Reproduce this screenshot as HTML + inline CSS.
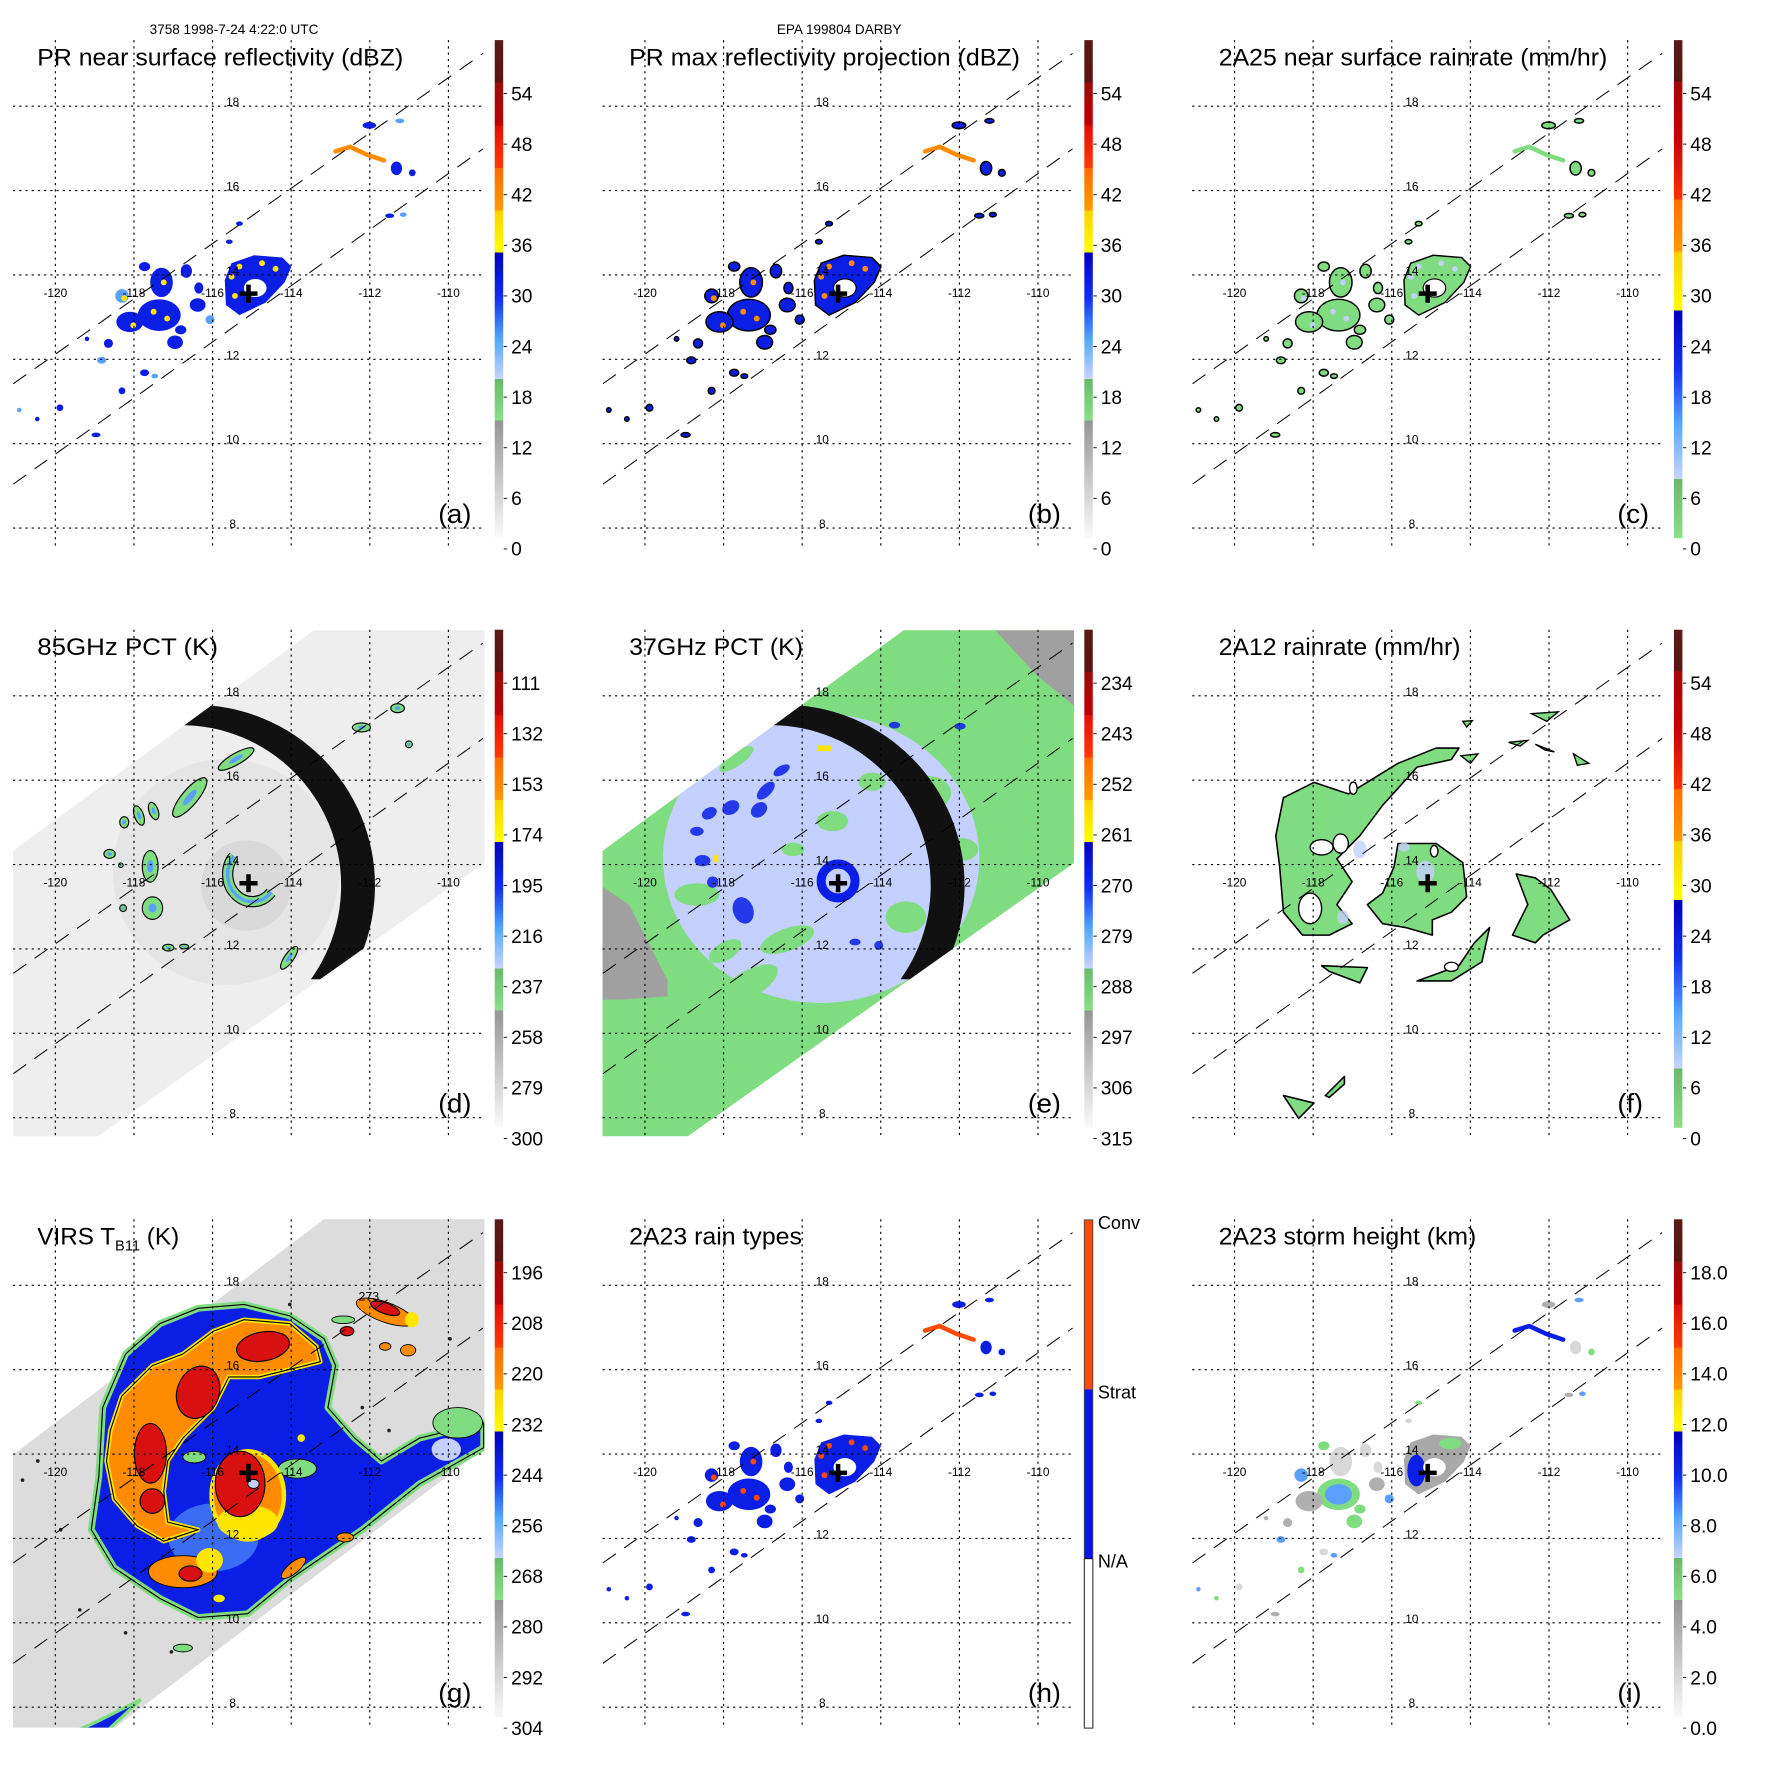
<!DOCTYPE html>
<html><head><meta charset="utf-8">
<style>
html,body{margin:0;padding:0;background:#fff;}
svg{display:block;}
text{font-family:"Liberation Sans",sans-serif;}
</style></head>
<body>
<svg id="fig" width="1771" height="1771" viewBox="0 0 1546 1546" xmlns="http://www.w3.org/2000/svg">
<defs>
<linearGradient id="cbStd" x1="0" y1="0" x2="0" y2="1">
<stop offset="0" stop-color="#5a1a16"/><stop offset="0.085" stop-color="#5c1410"/>
<stop offset="0.085" stop-color="#9a0c08"/><stop offset="0.171" stop-color="#c00000"/>
<stop offset="0.171" stop-color="#e01000"/><stop offset="0.257" stop-color="#ff3a00"/>
<stop offset="0.257" stop-color="#ff6a00"/><stop offset="0.342" stop-color="#ff9a00"/>
<stop offset="0.342" stop-color="#ffd000"/><stop offset="0.426" stop-color="#ffff00"/>
<stop offset="0.426" stop-color="#0000c0"/><stop offset="0.52" stop-color="#1030f0"/><stop offset="0.6" stop-color="#50a8ff"/><stop offset="0.68" stop-color="#c8d4ff"/>
<stop offset="0.68" stop-color="#66bb6a"/><stop offset="0.764" stop-color="#88e088"/>
<stop offset="0.764" stop-color="#959595"/><stop offset="1" stop-color="#fafafa"/>
</linearGradient>
<linearGradient id="cbRain" x1="0" y1="0" x2="0" y2="1">
<stop offset="0" stop-color="#5a1a16"/><stop offset="0.083" stop-color="#5c1410"/>
<stop offset="0.083" stop-color="#a00808"/><stop offset="0.2" stop-color="#cc0000"/><stop offset="0.32" stop-color="#ff3000"/>
<stop offset="0.32" stop-color="#ff7000"/><stop offset="0.424" stop-color="#ff9a00"/>
<stop offset="0.424" stop-color="#ffd000"/><stop offset="0.543" stop-color="#ffff00"/>
<stop offset="0.543" stop-color="#0000c0"/><stop offset="0.66" stop-color="#1030f0"/><stop offset="0.77" stop-color="#50a8ff"/><stop offset="0.881" stop-color="#c8d4ff"/>
<stop offset="0.881" stop-color="#66bb6a"/><stop offset="1" stop-color="#88e088"/>
</linearGradient>
<clipPath id="plotClip"><rect x="11.5" y="35.5" width="417.5" height="450"/></clipPath>
<clipPath id="swathClip"><polygon points="10.5,232 278,36 429,36 429,242 87,484 10.5,484"/></clipPath>
<clipPath id="halfClip"><rect x="150" y="0" width="300" height="345"/></clipPath>
</defs>
<g id="root" transform="scale(0.986)">
<text x="132.5" y="30" font-size="12">3758 1998-7-24 4:22:0 UTC</text>
<text x="743" y="30" font-size="12" text-anchor="middle">EPA 199804 DARBY</text>
</g>
</svg>
<script>
// ---------- data ----------
const panelIds = ['a','b','c','d','e','f','g','h','i'];
const panelTitles = ['PR near surface reflectivity (dBZ)','PR max reflectivity projection (dBZ)','2A25 near surface rainrate (mm/hr)','85GHz PCT (K)','37GHz PCT (K)','2A12 rainrate (mm/hr)','VIRS T','2A23 rain types','2A23 storm height (km)'];
const titleWidths = [324,346,344,160,154,214,0,153,228];
const lonTicks = [-120,-118,-116,-114,-112,-110];
const latTicks = [18,16,14,12,10,8];
const cbDBZ = ['0','6','12','18','24','30','36','42','48','54'];
const cbPCT85 = ['300','279','258','237','216','195','174','153','132','111'];
const cbPCT37 = ['315','306','297','288','279','270','261','252','243','234'];
const cbRain = ['0','6','12','18','24','30','36','42','48','54'];
const cbVIRS = ['304','292','280','268','256','244','232','220','208','196'];
const cbHeight = ['0.0','2.0','4.0','6.0','8.0','10.0','12.0','14.0','16.0','18.0'];
const rainTypes = ['Conv','Strat','N/A'];

// PR swath features: [x, y, rx, ry]
const prBlobs = [[141,279,19,14],[115,285,12,9],[108,262,6,6],[143,250,10,13],[155,303,7,6],[175,270,7,6],[186,283,4,4],[165,240,5,6],[128,236,5,4],[96,304,4,4],[90,319,4,3],[128,330,4,3],[108,346,3,3],[77,300,2,2],[137,333,3,2],[203,214,3,2],[212,198,3,2],[327,111,6,3],[354,107,4,2],[351,149,5,6],[365,153,3,3],[345,191,4,2],[357,190,3,2],[53,361,3,3],[33,371,2,2],[85,385,4,2],[17,363,2,2],[176,255,4,5],[160,292,5,4]];
const prStreak = [[297,134],[310,130],[325,137],[340,142]];
const eyeShape = [[199,248],[205,233],[225,226],[250,228],[258,236],[252,250],[235,268],[212,279],[200,270]];
const hotSpots = [[205,245],[212,236],[232,233],[244,238],[208,262],[148,282],[136,276],[118,288],[145,250],[110,264]];

// 85GHz features [x,y,rx,ry,rot]
const d85 = [[168,184,22,7,-50],[209,150,18,5,-30],[133,245,7,14,0],[135,282,9,10,0],[123,200,4,9,-20],[136,196,4,8,-20],[110,206,4,5,0],[97,234,5,4,0],[107,244,2,2,0],[256,326,12,4,-55],[320,122,8,4,0],[352,105,6,4,0],[362,137,3,3,0],[149,317,5,3,0],[163,316,4,2,0],[109,282,3,3,0]];
// 37GHz blue features [x,y,rx,ry,rot]
const e37 = [[156,178,10,5,-45],[125,193,8,6,-30],[106,198,7,5,-30],[150,195,8,6,-40],[95,214,6,4,0],[136,284,9,12,-20],[100,240,7,5,0],[109,259,5,5,0],[170,160,8,4,-30],[270,120,5,3,0],[328,121,5,3,0],[235,312,5,3,0],[256,315,4,4,0]];
const e37green = [[60,160,30,12,-30],[95,270,20,10,0],[175,310,25,10,-20],[300,180,20,15,0],[280,290,18,14,0],[140,350,30,12,-30],[215,205,14,9,0],[130,150,18,6,-35],[250,170,12,8,0],[180,230,10,6,0],[120,320,16,8,-30],[330,230,14,10,0]];

// 2A12 rain polygons
const fArc = [[300,520],[380,480],[470,510],[600,430],[700,390],[760,390],[740,420],[650,440],[560,540],[500,620],[440,680],[480,740],[440,800],[480,850],[420,880],[350,880],[300,820],[290,700],[280,620]];
const fEye = [[600,640],[700,640],[770,690],[780,780],[740,820],[690,840],[690,880],[620,860],[560,850],[520,800],[560,770],[590,700]];
const fRight = [[910,720],[960,730],[1000,760],[1050,840],[980,880],[960,900],[900,880],[940,800]];
const fLowArc = [[650,1000],[760,960],[800,900],[840,860],[820,950],[740,1000]];
const fLowLeft = [[400,960],[520,965],[500,1005],[420,975]];
const fBottom1 = [[300,1300],[380,1320],[340,1360]];
const fBottom2 = [[410,1300],[460,1250],[460,1270],[420,1305]];
const fSmall = [[950,300],[1020,295],[990,320],[890,375],[940,370],[920,385],[960,380],[1010,400],[985,395],[1060,405],[1100,430],[1070,435],[770,320],[795,318],[780,335],[765,410],[810,405],[790,430]];
const fHoles = [[400,650,30,20],[450,640,20,25],[370,810,30,40],[483,495,10,16],[695,660,10,15],[740,963,18,12]];

// VIRS polygons (zoom-reference coordinates)
const gEnv = [[270,560],[330,420],[420,340],[520,300],[640,290],[760,320],[850,380],[880,450],[860,560],[930,640],[1000,700],[1100,640],[1268,600],[1268,665],[1100,760],[950,880],[760,1010],[650,1100],[520,1110],[420,1060],[300,980],[240,880],[260,740]];
const gOrange = [[290,620],[320,530],[400,450],[480,420],[560,360],[640,330],[760,340],[830,400],[840,440],[760,460],[680,480],[600,480],[560,560],[480,640],[440,700],[430,780],[440,860],[520,880],[430,910],[360,870],[300,800],[280,700]];
const gReds = [[395,680,42,78,0],[520,520,55,70,20],[690,400,70,38,-10],[400,805,32,32,0],[500,995,30,20,0],[910,360,18,12,0],[1010,300,40,14,20]];
const gOranges = [[480,990,90,42,0],[1010,310,80,26,20],[1010,400,15,10,0],[1070,410,20,15,0],[770,980,40,14,-40],[905,900,22,12,0]];
const gYellows = [[550,960,35,32,0],[650,860,80,45,0],[1080,330,18,20,0],[790,640,10,10,0],[575,1060,15,10,0]];
const gGreens = [[1200,600,65,40,0],[780,720,50,25,0],[510,690,30,15,0],[900,330,30,10,0],[480,1190,25,10,0]];
const gBlueStrip = [[90,1455],[250,1385],[370,1325],[230,1455]];
const gDots = [[100,700],[300,520],[500,460],[60,750],[160,880],[210,1090],[330,1150],[450,1200],[950,560],[1020,620],[1180,380],[760,290]];

// ---------- helpers ----------
const NS='http://www.w3.org/2000/svg';
const fig=document.getElementById('root');
function mk(tag,parent,attrs){const e=document.createElementNS(NS,tag);for(const k in attrs)e.setAttribute(k,attrs[k]);parent.appendChild(e);return e;}
function pts(arr,fx,fy){return arr.map(p=>fx(p[0]).toFixed(1)+','+fy(p[1]).toFixed(1)).join(' ');}
const idx=v=>v;
const fX=z=>49+(z-172)*0.338, fY=z=>94+(z-253)*0.338;
const gX=z=>49+(z-146)*0.338, gY=z=>94+(z-240)*0.338;
const lonX=lon=>49+(lon+120)*34.8;
const latY=lat=>94+(18-lat)*37.35;

const GREEN='#80dc80',LB='#c4d0ff',MB='#5aa0ff',BL='#0a1ee6',YE='#ffe600',OR='#ff8c00',RD='#d81010',PRED='#ff4a00';

panelIds.forEach((id,k)=>{
  const col=k%3,row=Math.floor(k/3);
  const P=mk('g',fig,{transform:`translate(${col*522},${row*522})`});
  
  
  const D=mk('g',P,{'clip-path':'url(#plotClip)'});
  
  

  if(['a','b','c','h','i'].includes(id)){
    const fill={a:BL,b:BL,c:GREEN,h:BL,i:'#bdbdbd'}[id];
    const stroke=(id==='b'||id==='c')?'#000':'none';
    prBlobs.forEach((b,j)=>{
      let f=fill;
      if(id==='a'&&j%4===2)f=MB;
      if(id==='i')f=[GREEN,'#b0b0b0',MB,'#d8d8d8'][j%4];
      const e=mk('ellipse',D,{cx:b[0],cy:b[1],rx:b[2],ry:b[3],fill:f,stroke:stroke,'stroke-width':1.3});
      
      
    });
    const eye=mk('polygon',D,{points:pts(eyeShape,idx,idx),fill:(id==='c'?GREEN:(id==='i'?'#a8a8a8':BL)),stroke:stroke,'stroke-width':1.3});
    
    
    if(id==='i'){mk('ellipse',D,{cx:210,cy:258,rx:8,ry:14,fill:BL});mk('ellipse',D,{cx:141,cy:279,rx:12,ry:9,fill:MB});mk('ellipse',D,{cx:240,cy:234,rx:10,ry:5,fill:GREEN});}
    const hole=mk('ellipse',D,{cx:226,cy:255,rx:10,ry:8,fill:'#fff',stroke:stroke,'stroke-width':1});
    
    
    const st=mk('polyline',D,{points:pts(prStreak,idx,idx),fill:'none',stroke:(id==='c'?GREEN:(id==='h'?PRED:(id==='i'?BL:OR))),'stroke-width':4,'stroke-linecap':'round'});
    
    
    if(id!=='c'&&id!=='i'){
      hotSpots.forEach(h=>{
        const c=mk('circle',D,{cx:h[0],cy:h[1],r:2.6,fill:(id==='h'?PRED:(id==='b'?OR:YE))});
        
        
      });
    }
    if(id==='c'){hotSpots.forEach(h=>{const c=mk('circle',D,{cx:h[0],cy:h[1],r:2.5,fill:LB});});}
  }
  if(id==='d'||id==='e'){
    const sw=mk('polygon',D,{points:'10.5,232 278,36 429,36 429,242 87,484 10.5,484',fill:(id==='d'?'#eeeeee':GREEN)});
    
    
    const S=mk('g',D,{'clip-path':'url(#swathClip)'});
    if(id==='d'){
      const hz=mk('circle',S,{cx:200,cy:250,r:100,fill:'#e2e2e2',opacity:0.8});
      
      
      mk('circle',S,{cx:218,cy:262,r:40,fill:'#d4d4d4',opacity:0.7});
      d85.forEach(b=>{
        const e=mk('ellipse',S,{cx:b[0],cy:b[1],rx:b[2],ry:b[3],fill:GREEN,stroke:'#000','stroke-width':1,transform:`rotate(${b[4]} ${b[0]} ${b[1]})`});
        
        
        mk('ellipse',S,{cx:b[0],cy:b[1],rx:b[2]*0.4,ry:b[3]*0.4,fill:MB,transform:`rotate(${b[4]} ${b[0]} ${b[1]})`});
      });
      const ew=mk('path',S,{d:'M 207 236 A 19 21 0 1 0 240 268',fill:'none',stroke:'#000','stroke-width':10});
      
      
      mk('path',S,{d:'M 207 236 A 19 21 0 1 0 240 268',fill:'none',stroke:GREEN,'stroke-width':8});
      mk('path',S,{d:'M 207 236 A 19 21 0 1 0 240 268',fill:'none',stroke:MB,'stroke-width':3});
    } else {
      const gr1=mk('polygon',S,{points:'359,36 429,36 429,103 396,76',fill:'#a0a0a0'});
      
      
      const gr2=mk('polygon',S,{points:'10,262 35,279 69,346 69,360 28,363 10,363',fill:'#a0a0a0'});
      
      
      const lb=mk('ellipse',S,{cx:205,cy:238,rx:140,ry:128,fill:LB});
      
      
      e37green.forEach(b=>{mk('ellipse',S,{cx:b[0],cy:b[1],rx:b[2],ry:b[3],fill:GREEN,transform:`rotate(${b[4]} ${b[0]} ${b[1]})`});});
      e37.forEach(b=>{
        const e=mk('ellipse',S,{cx:b[0],cy:b[1],rx:b[2],ry:b[3],fill:BL,opacity:0.85,transform:`rotate(${b[4]} ${b[0]} ${b[1]})`});
        
        
      });
      const ew=mk('circle',S,{cx:220,cy:258,r:15,fill:'none',stroke:BL,'stroke-width':8});
      
      
      mk('rect',S,{x:202,y:138,width:12,height:5,fill:YE});
      mk('rect',S,{x:110,y:235,width:4,height:6,fill:YE});
    }
    const HG=mk('g',S,{'clip-path':'url(#halfClip)'});
    const ring=mk('path',HG,{d:'M 332 262 A 160 160 0 1 0 12 262 A 160 160 0 1 0 332 262 Z M 302 262 A 142 142 0 1 1 18 262 A 142 142 0 1 1 302 262 Z','fill-rule':'evenodd',fill:'#111'});
    
    
  }
  if(id==='f'){
    [fArc,fEye,fRight,fLowArc,fLowLeft,fBottom1,fBottom2].forEach(poly=>{
      const p=mk('polygon',D,{points:pts(poly,fX,fY),fill:GREEN,stroke:'#000','stroke-width':1.4,'stroke-linejoin':'round'});
      
      
    });
    for(let j=0;j<fSmall.length;j+=3){
      const p=mk('polygon',D,{points:pts(fSmall.slice(j,j+3),fX,fY),fill:GREEN,stroke:'#000','stroke-width':1.2});
      
      
    }
    fHoles.forEach(h=>{
      const e=mk('ellipse',D,{cx:fX(h[0]),cy:fY(h[1]),rx:h[2]*0.338,ry:h[3]*0.338,fill:'#fff',stroke:'#000','stroke-width':1.2});
      
      
    });
    [[218,250,8,10],[160,230,6,8],[145,290,5,6],[199,228,5,4]].forEach(b=>{mk('ellipse',D,{cx:b[0],cy:b[1],rx:b[2],ry:b[3],fill:LB,opacity:0.8});});
  }
  if(id==='g'){
    const sw=mk('polygon',D,{points:'11.5,244 290,33 429,33 429,238 76,505 11.5,505',fill:'#dcdcdc'});
    
    
    gDots.forEach(p=>{mk('circle',D,{cx:gX(p[0]),cy:gY(p[1]),r:1.6,fill:'#222'});});
    const env=mk('polygon',D,{points:pts(gEnv,gX,gY),fill:BL,stroke:GREEN,'stroke-width':6,'stroke-linejoin':'round'});
    
    
    mk('polygon',D,{points:pts(gEnv,gX,gY),fill:'none',stroke:'#000','stroke-width':1});
    gGreens.forEach(b=>{mk('ellipse',D,{cx:gX(b[0]),cy:gY(b[1]),rx:b[2]*0.338,ry:b[3]*0.338,fill:GREEN,stroke:'#000','stroke-width':0.8});});
    mk('ellipse',D,{cx:gX(1170),cy:gY(670),rx:13,ry:10,fill:LB});
    mk('ellipse',D,{cx:gX(560),cy:gY(900),rx:40,ry:30,fill:MB,opacity:0.6});
    const ob=mk('polygon',D,{points:pts(gOrange,gX,gY),fill:OR,stroke:YE,'stroke-width':4,'stroke-linejoin':'round'});
    
    
    mk('polygon',D,{points:pts(gOrange,gX,gY),fill:'none',stroke:'#000','stroke-width':1});
    const eyeO=mk('ellipse',D,{cx:gX(650),cy:gY(790),rx:32,ry:39,fill:OR,stroke:YE,'stroke-width':4});
    
    
    gOranges.forEach(b=>{mk('ellipse',D,{cx:gX(b[0]),cy:gY(b[1]),rx:b[2]*0.338,ry:b[3]*0.338,fill:OR,stroke:'#000','stroke-width':0.8,transform:`rotate(${b[4]} ${gX(b[0])} ${gY(b[1])})`});});
    gYellows.forEach(b=>{mk('ellipse',D,{cx:gX(b[0]),cy:gY(b[1]),rx:b[2]*0.338,ry:b[3]*0.338,fill:YE,transform:`rotate(${b[4]} ${gX(b[0])} ${gY(b[1])})`});});
    const eyeR=mk('ellipse',D,{cx:gX(630),cy:gY(760),rx:22,ry:29,fill:RD,stroke:'#000','stroke-width':1});
    
    
    gReds.forEach(b=>{
      const e=mk('ellipse',D,{cx:gX(b[0]),cy:gY(b[1]),rx:b[2]*0.338,ry:b[3]*0.338,fill:RD,stroke:'#000','stroke-width':1,transform:`rotate(${b[4]} ${gX(b[0])} ${gY(b[1])})`});
      
      
    });
    mk('ellipse',D,{cx:gX(665),cy:gY(760),rx:5,ry:4,fill:LB,stroke:'#000','stroke-width':0.8});
    mk('polygon',D,{points:pts(gBlueStrip,gX,gY),fill:BL,stroke:GREEN,'stroke-width':3});
    const t73=mk('text',D,{x:gX(940),y:gY(280),'font-size':11,fill:'#000'});
    t73.textContent='273';
    
    
  }

  // ---------- grid ----------
  latTicks.forEach(lat=>{
    const y=latY(lat);
    const l=mk('line',P,{x1:11.5,x2:429,y1:y,y2:y,stroke:'#000','stroke-width':1,'stroke-dasharray':'2,3.5'});
    
    
    const t=mk('text',P,{x:206,y:y,'font-size':10.5,'text-anchor':'middle'});
    t.textContent=String(lat);
    
    
  });
  lonTicks.forEach(lon=>{
    const x=lonX(lon);
    const l=mk('line',P,{x1:x,x2:x,y1:35.5,y2:485,stroke:'#000','stroke-width':1,'stroke-dasharray':'2,3.5'});
    
    
    const t=mk('text',P,{x:x,y:263,'font-size':10.5,'text-anchor':'middle'});
    t.textContent=String(lon);
    
    
  });
  [[11.8,339.7,427.6,47.3],[11.8,428.6,427.6,131.8]].forEach(s=>{
    const l=mk('line',P,{x1:s[0],y1:s[1],x2:s[2],y2:s[3],stroke:'#000','stroke-width':0.9,'stroke-dasharray':'14,9'});
    
    
  });
  const cr=mk('path',P,{d:'M 220 252 V 268 M 212 260 H 228',stroke:'#000','stroke-width':4});
  
  

  // ---------- title & letter ----------
  const tx=(col===0)?33:35;
  const ti=mk('text',P,{x:tx,y:58,'font-size':21.5});
  ti.textContent=panelTitles[k];
  if(titleWidths[k]){ti.setAttribute('textLength',titleWidths[k]);ti.setAttribute('lengthAdjust','spacingAndGlyphs');}
  
  
  if(id==='g'){
    const sub=mk('tspan',ti,{'font-size':13,dy:5});sub.textContent='B11';
    const rest=mk('tspan',ti,{dy:-5});rest.textContent=' (K)';
  }
  const lt=mk('text',P,{x:388,y:463,'font-size':24});
  lt.textContent='('+id+')';
  
  

  // ---------- colorbar ----------
  const CB=mk('g',P,{});
  
  
  if(id==='h'){
    mk('rect',CB,{x:438,y:36,width:7.5,height:150,fill:PRED});
    mk('rect',CB,{x:438,y:186,width:7.5,height:150,fill:'#0a14f0'});
    mk('rect',CB,{x:438,y:336,width:7.5,height:150,fill:'#fff',stroke:'#000','stroke-width':0.8});
    mk('rect',CB,{x:438,y:36,width:7.5,height:450,fill:'none',stroke:'#444','stroke-width':0.8});
    rainTypes.forEach((r,j)=>{
      const t=mk('text',CB,{x:450,y:44+j*150,'font-size':16});
      t.textContent=r;
      
      
    });
  } else {
    const grad=(id==='c'||id==='f')?'cbRain':'cbStd';
    mk('rect',CB,{x:438,y:35.5,width:7.5,height:441,fill:`url(#${grad})`});
    const labels={a:cbDBZ,b:cbDBZ,c:cbRain,d:cbPCT85,e:cbPCT37,f:cbRain,g:cbVIRS,i:cbHeight}[id];
    labels.forEach((lab,j)=>{
      const y=486-j*44.8;
      mk('line',CB,{x1:446,x2:449,y1:y,y2:y,stroke:'#000','stroke-width':0.8});
      const t=mk('text',CB,{x:452.5,y:y+6,'font-size':17});
      t.textContent=lab;
      
      
    });
  }
});
</script>
</body></html>
